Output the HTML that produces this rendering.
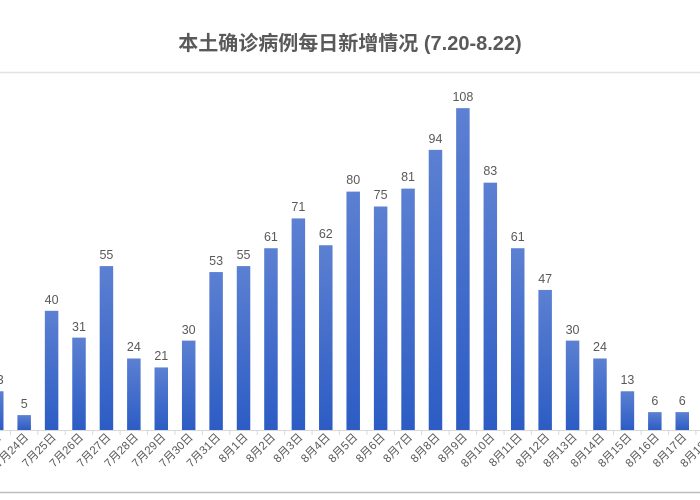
<!DOCTYPE html>
<html><head><meta charset="utf-8"><style>
html,body{margin:0;padding:0;background:#fff;width:700px;height:500px;overflow:hidden}
</style></head><body>
<svg width="700" height="500" xmlns="http://www.w3.org/2000/svg" font-family="Liberation Sans, Noto Sans CJK SC, sans-serif">
<defs><linearGradient id="g" x1="0" y1="0" x2="0" y2="1"><stop offset="0" stop-color="#5c80d2"/><stop offset="1" stop-color="#2c5cc4"/></linearGradient></defs>
<rect x="0" y="0" width="700" height="500" fill="#fff"/>
<line x1="0" y1="72.5" x2="700" y2="72.5" stroke="#e2e2e2" stroke-width="1.5"/>
<line x1="0" y1="492.5" x2="700" y2="492.5" stroke="#bdbdbd" stroke-width="1.5"/>
<text x="350" y="50" text-anchor="middle" font-size="20" font-weight="bold" fill="#595959">本土确诊病例每日新增情况 (7.20-8.22)</text>
<line x1="0" y1="430.5" x2="700" y2="430.5" stroke="#d9d9d9" stroke-width="1"/>
<g fill="url(#g)">
<rect x="-10" y="391.26" width="13.5" height="38.74"/>
<rect x="17.42" y="415.1" width="13.5" height="14.9"/>
<rect x="44.84" y="310.8" width="13.5" height="119.2"/>
<rect x="72.26" y="337.62" width="13.5" height="92.38"/>
<rect x="99.68" y="266.1" width="13.5" height="163.9"/>
<rect x="127.1" y="358.48" width="13.5" height="71.52"/>
<rect x="154.52" y="367.42" width="13.5" height="62.58"/>
<rect x="181.94" y="340.6" width="13.5" height="89.4"/>
<rect x="209.36" y="272.06" width="13.5" height="157.94"/>
<rect x="236.78" y="266.1" width="13.5" height="163.9"/>
<rect x="264.2" y="248.22" width="13.5" height="181.78"/>
<rect x="291.62" y="218.42" width="13.5" height="211.58"/>
<rect x="319.04" y="245.24" width="13.5" height="184.76"/>
<rect x="346.46" y="191.6" width="13.5" height="238.4"/>
<rect x="373.88" y="206.5" width="13.5" height="223.5"/>
<rect x="401.3" y="188.62" width="13.5" height="241.38"/>
<rect x="428.72" y="149.88" width="13.5" height="280.12"/>
<rect x="456.14" y="108.16" width="13.5" height="321.84"/>
<rect x="483.56" y="182.66" width="13.5" height="247.34"/>
<rect x="510.98" y="248.22" width="13.5" height="181.78"/>
<rect x="538.4" y="289.94" width="13.5" height="140.06"/>
<rect x="565.82" y="340.6" width="13.5" height="89.4"/>
<rect x="593.24" y="358.48" width="13.5" height="71.52"/>
<rect x="620.66" y="391.26" width="13.5" height="38.74"/>
<rect x="648.08" y="412.12" width="13.5" height="17.88"/>
<rect x="675.5" y="412.12" width="13.5" height="17.88"/>
</g>
<g font-size="12.5" fill="#595959" text-anchor="middle">
<text x="-3.25" y="384">13</text>
<text x="24.17" y="408">5</text>
<text x="51.59" y="304">40</text>
<text x="79.01" y="331">31</text>
<text x="106.43" y="259">55</text>
<text x="133.85" y="351">24</text>
<text x="161.27" y="360">21</text>
<text x="188.69" y="334">30</text>
<text x="216.11" y="265">53</text>
<text x="243.53" y="259">55</text>
<text x="270.95" y="241">61</text>
<text x="298.37" y="211">71</text>
<text x="325.79" y="238">62</text>
<text x="353.21" y="184">80</text>
<text x="380.63" y="199">75</text>
<text x="408.05" y="181">81</text>
<text x="435.47" y="143">94</text>
<text x="462.89" y="101">108</text>
<text x="490.31" y="175">83</text>
<text x="517.73" y="241">61</text>
<text x="545.15" y="283">47</text>
<text x="572.57" y="334">30</text>
<text x="599.99" y="351">24</text>
<text x="627.41" y="384">13</text>
<text x="654.83" y="405">6</text>
<text x="682.25" y="405">6</text>
</g>
<g stroke="#d9d9d9">
<line x1="10.4" y1="430" x2="10.4" y2="435"/><line x1="37.8" y1="430" x2="37.8" y2="435"/><line x1="65.2" y1="430" x2="65.2" y2="435"/><line x1="92.7" y1="430" x2="92.7" y2="435"/><line x1="120.1" y1="430" x2="120.1" y2="435"/><line x1="147.5" y1="430" x2="147.5" y2="435"/><line x1="174.9" y1="430" x2="174.9" y2="435"/><line x1="202.3" y1="430" x2="202.3" y2="435"/><line x1="229.8" y1="430" x2="229.8" y2="435"/><line x1="257.2" y1="430" x2="257.2" y2="435"/><line x1="284.6" y1="430" x2="284.6" y2="435"/><line x1="312" y1="430" x2="312" y2="435"/><line x1="339.4" y1="430" x2="339.4" y2="435"/><line x1="366.9" y1="430" x2="366.9" y2="435"/><line x1="394.3" y1="430" x2="394.3" y2="435"/><line x1="421.7" y1="430" x2="421.7" y2="435"/><line x1="449.1" y1="430" x2="449.1" y2="435"/><line x1="476.5" y1="430" x2="476.5" y2="435"/><line x1="504" y1="430" x2="504" y2="435"/><line x1="531.4" y1="430" x2="531.4" y2="435"/><line x1="558.8" y1="430" x2="558.8" y2="435"/><line x1="586.2" y1="430" x2="586.2" y2="435"/><line x1="613.6" y1="430" x2="613.6" y2="435"/><line x1="641.1" y1="430" x2="641.1" y2="435"/><line x1="668.5" y1="430" x2="668.5" y2="435"/><line x1="695.9" y1="430" x2="695.9" y2="435"/>
</g>
<g font-size="11.5" fill="#595959" text-anchor="end">
<text transform="translate(1.75,438) rotate(-45)">7月23日</text>
<text transform="translate(29.17,438) rotate(-45)">7月24日</text>
<text transform="translate(56.59,438) rotate(-45)">7月25日</text>
<text transform="translate(84.01,438) rotate(-45)">7月26日</text>
<text transform="translate(111.43,438) rotate(-45)">7月27日</text>
<text transform="translate(138.85,438) rotate(-45)">7月28日</text>
<text transform="translate(166.27,438) rotate(-45)">7月29日</text>
<text transform="translate(193.69,438) rotate(-45)">7月30日</text>
<text transform="translate(221.11,438) rotate(-45)">7月31日</text>
<text transform="translate(248.53,438) rotate(-45)">8月1日</text>
<text transform="translate(275.95,438) rotate(-45)">8月2日</text>
<text transform="translate(303.37,438) rotate(-45)">8月3日</text>
<text transform="translate(330.79,438) rotate(-45)">8月4日</text>
<text transform="translate(358.21,438) rotate(-45)">8月5日</text>
<text transform="translate(385.63,438) rotate(-45)">8月6日</text>
<text transform="translate(413.05,438) rotate(-45)">8月7日</text>
<text transform="translate(440.47,438) rotate(-45)">8月8日</text>
<text transform="translate(467.89,438) rotate(-45)">8月9日</text>
<text transform="translate(495.31,438) rotate(-45)">8月10日</text>
<text transform="translate(522.73,438) rotate(-45)">8月11日</text>
<text transform="translate(550.15,438) rotate(-45)">8月12日</text>
<text transform="translate(577.57,438) rotate(-45)">8月13日</text>
<text transform="translate(604.99,438) rotate(-45)">8月14日</text>
<text transform="translate(632.41,438) rotate(-45)">8月15日</text>
<text transform="translate(659.83,438) rotate(-45)">8月16日</text>
<text transform="translate(687.25,438) rotate(-45)">8月17日</text>
<text transform="translate(714.67,438) rotate(-45)">8月18日</text>
</g>
</svg>
</body></html>
